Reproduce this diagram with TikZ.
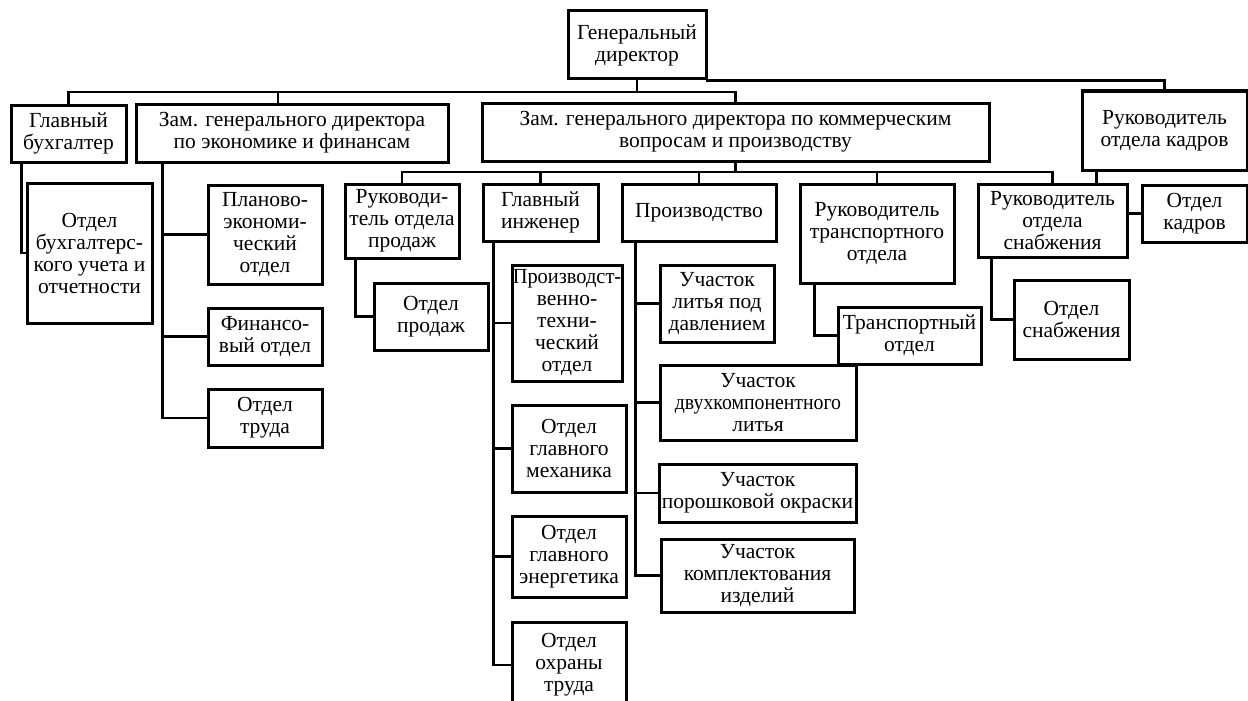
\documentclass[tikz,border=0pt]{standalone}
\usepackage{fontspec}
\setmainfont{Liberation Serif}
\newcommand{\narrowtext}[2]{\scalebox{#1}[1]{#2}}
\begin{document}
\begin{tikzpicture}[x=1pt,y=-1pt,
  box/.style={draw,line width=3pt,inner sep=0pt,align=center,
    font=\fontsize{21.5}{22}\selectfont},
  conn/.style={line width=2.7pt,line cap=rect}]
\useasboundingbox (0,0) rectangle (1248,701);
\clip (0,0) rectangle (1248,701);
% level 0 and 1
\node[box,minimum width=138,minimum height=68] (gd) at (637,45) {Генеральный\\директор};
\node[box,minimum width=115,minimum height=57] (gb) at (68.5,133.5) {Главный\\бухгалтер};
\node[box,minimum width=312,minimum height=58] (ze) at (292,133) {Зам. генерального директора\\по экономике и финансам};
\node[box,minimum width=507,minimum height=58] (zk) at (735.5,132) {Зам. генерального директора по коммерческим\\вопросам и производству};
\node[box,minimum width=165,minimum height=79] (rok) at (1164.5,130.5) {Руководитель\\отдела кадров};
% under chief accountant / economics
\node[box,minimum width=125,minimum height=140] (obu) at (89.5,253) {Отдел\\бухгалтерс-\\кого учета и\\отчетности};
\node[box,minimum width=114,minimum height=99] (peo) at (265,234.5) {Планово-\\экономи-\\ческий\\отдел};
\node[box,minimum width=114,minimum height=57] (fin) at (265,336.5) {Финансо-\\вый отдел};
\node[box,minimum width=114,minimum height=58] (ot) at (265,418) {Отдел\\труда};
% under commercial deputy
\node[box,minimum width=114,minimum height=74] (rop) at (402,221) {Руководи-\\тель отдела\\продаж};
\node[box,minimum width=114,minimum height=67] (op) at (431,316.5) {Отдел\\продаж};
\node[box,minimum width=115,minimum height=57] (gi) at (540.5,212.5) {Главный\\инженер};
\node[box,minimum width=110,minimum height=116] (pto) at (567,323) {\narrowtext{0.95}{Производст-}\\венно-\\техни-\\ческий\\отдел};
\node[box,minimum width=114,minimum height=87] (ogm) at (569,448.5) {Отдел\\главного\\механика};
\node[box,minimum width=114,minimum height=81] (oge) at (569,556.5) {Отдел\\главного\\энергетика};
\node[box,minimum width=114,minimum height=86] (oot) at (569,665) {Отдел\\охраны\\труда};
\node[box,minimum width=154,minimum height=57] (pr) at (699,212.5) {Производство};
\node[box,minimum width=114,minimum height=77] (ulpd) at (717,303.5) {Участок\\литья под\\давлением};
\node[box,minimum width=196,minimum height=75] (udl) at (758,402.5) {Участок\\\narrowtext{0.92}{двухкомпонентного}\\литья};
\node[box,minimum width=197,minimum height=58] (upo) at (757.5,493) {Участок\\порошковой окраски};
\node[box,minimum width=193,minimum height=73] (uki) at (757.5,575.5) {Участок\\комплектования\\изделий};
\node[box,minimum width=154,minimum height=99] (rto) at (877,233.5) {Руководитель\\транспортного\\отдела};
\node[box,minimum width=143,minimum height=57] (to) at (909.5,335.5) {Транспортный\\отдел};
\node[box,minimum width=149,minimum height=73] (ros) at (1052.5,220.5) {Руководитель\\отдела\\снабжения};
\node[box,minimum width=115,minimum height=79] (os) at (1071.5,319.5) {Отдел\\снабжения};
\node[box,minimum width=105,minimum height=57] (ok) at (1194.5,213.5) {Отдел\\кадров};
% connectors level 0 -> 1
\coordinate (bus1) at (637,92);
\draw[conn] (gd.south) -- (bus1);
\draw[conn] (gb.north) |- (bus1);
\draw[conn] ([xshift=-14]ze.north) |- (bus1);
\draw[conn] (zk.north) |- (bus1);
\draw[conn] (gd.south east) -| (rok.north);
% chief accountant
\draw[conn] ([xshift=12]gb.south west) |- (obu.west);
% economics
\draw[conn] ([xshift=28]ze.south west) |- (peo.west);
\draw[conn] ([xshift=28]ze.south west) |- (fin.west);
\draw[conn] ([xshift=28]ze.south west) |- (ot.west);
% commercial
\coordinate (bus2) at (735.5,172);
\draw[conn] (zk.south) -- (bus2);
\draw[conn] (rop.north) |- (bus2);
\draw[conn] (gi.north) |- (bus2);
\draw[conn] (pr.north) |- (bus2);
\draw[conn] (rto.north) |- (bus2);
\draw[conn] (ros.north) |- (bus2);
\draw[conn] ([xshift=12]rop.south west) |- (op.west);
\draw[conn] ([xshift=12]gi.south west) |- (pto.west);
\draw[conn] ([xshift=12]gi.south west) |- (ogm.west);
\draw[conn] ([xshift=12]gi.south west) |- (oge.west);
\draw[conn] ([xshift=12]gi.south west) |- (oot.west);
\draw[conn] ([xshift=15]pr.south west) |- (ulpd.west);
\draw[conn] ([xshift=15]pr.south west) |- (udl.west);
\draw[conn] ([xshift=15]pr.south west) |- (upo.west);
\draw[conn] ([xshift=15]pr.south west) |- (uki.west);
\draw[conn] ([xshift=16]rto.south west) |- (to.west);
\draw[conn] ([xshift=15]ros.south west) |- (os.west);
\draw[conn] ([xshift=16]rok.south west) -- ([xshift=16]rok.south west |- ros.north);
\draw[conn] (ok.west) -- (ok.west -| ros.east);
\end{tikzpicture}
\end{document}
